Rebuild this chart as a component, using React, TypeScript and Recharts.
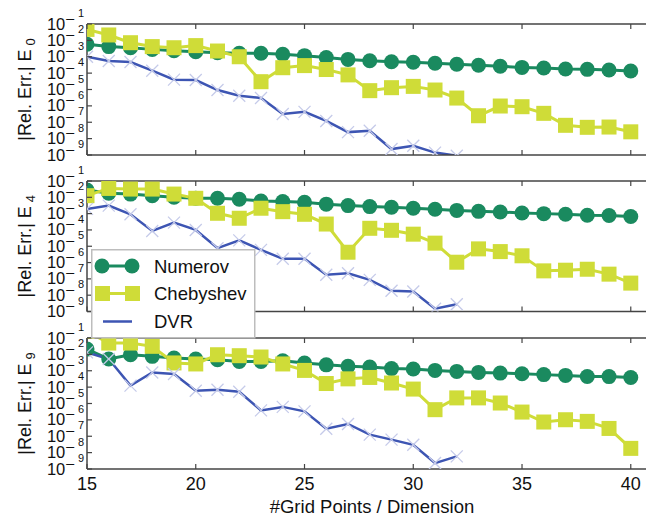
import React from 'react';
import { LineChart, Line, XAxis, YAxis, Legend } from 'recharts';

// ---------- data ----------
const gridPoints = [15, 16, 17, 18, 19, 20, 21, 22, 23, 24, 25, 26, 27, 28, 29, 30, 31, 32, 33, 34, 35, 36, 37, 38, 39, 40];

const numerovE0 = [5.75e-3, 4.17e-3, 3.55e-3, 2.82e-3, 2.34e-3, 2.04e-3, 1.78e-3, 1.62e-3, 1.62e-3, 1.41e-3, 1.17e-3, 8.9e-4, 6.9e-4, 5.75e-4, 5.0e-4, 4.57e-4, 3.98e-4, 3.47e-4, 3.02e-4, 2.63e-4, 2.24e-4, 2.04e-4, 1.78e-4, 1.7e-4, 1.55e-4, 1.35e-4];
const chebyshevE0 = [4.68e-2, 2.14e-2, 7.2e-3, 4.17e-3, 3.55e-3, 4.79e-3, 2.24e-3, 1.0e-3, 3.0e-5, 2.14e-4, 2.88e-4, 1.66e-4, 7.8e-5, 8.5e-6, 1.29e-5, 1.55e-5, 9.3e-6, 3.0e-6, 2.5e-7, 9.8e-7, 8.9e-7, 3.5e-7, 6.5e-8, 4.9e-8, 5.1e-8, 2.6e-8];
const dvrE0 = [1.0e-3, 5.5e-4, 4.8e-4, 1.41e-4, 4.0e-5, 3.8e-5, 9.3e-6, 4.2e-6, 3.0e-6, 3.2e-7, 4.3e-7, 1.2e-7, 2.5e-8, 3.0e-8, 2.3e-9, 3.7e-9, 1.4e-9, 9.0e-10];

const numerovE4 = [2.8e-2, 1.78e-2, 1.58e-2, 1.26e-2, 1.0e-2, 8.7e-3, 8.7e-3, 7.6e-3, 6.0e-3, 5.5e-3, 4.9e-3, 3.8e-3, 3.1e-3, 2.7e-3, 2.45e-3, 2.14e-3, 1.86e-3, 1.58e-3, 1.38e-3, 1.26e-3, 1.1e-3, 1.0e-3, 9.1e-4, 7.9e-4, 7.6e-4, 6.6e-4];
const chebyshevE4 = [1.26e-2, 3.5e-2, 3.2e-2, 3.2e-2, 1.58e-2, 8.7e-3, 1.05e-3, 5.2e-4, 2.14e-3, 1.32e-3, 9.1e-4, 2.3e-4, 4.3e-6, 1.26e-4, 9.5e-5, 5.5e-5, 1.55e-5, 1.05e-6, 6.9e-6, 4.7e-6, 2.6e-6, 3.1e-7, 3.4e-7, 3.9e-7, 1.95e-7, 5.5e-8];
const dvrE4 = [1.95e-3, 3.1e-3, 9.1e-4, 8.7e-5, 2.8e-4, 1.0e-4, 7.6e-6, 2.3e-5, 6.0e-6, 1.7e-6, 1.7e-6, 1.78e-7, 2.2e-7, 8.7e-8, 1.86e-8, 1.7e-8, 1.48e-9, 2.8e-9];

const numerovE9 = [2.1e-2, 5.2e-3, 9.5e-3, 7.6e-3, 6.0e-3, 5.2e-3, 4.7e-3, 3.7e-3, 3.7e-3, 4.1e-3, 3.0e-3, 2.3e-3, 1.86e-3, 1.7e-3, 1.35e-3, 1.29e-3, 1.05e-3, 9.1e-4, 7.9e-4, 7.2e-4, 6.6e-4, 5.8e-4, 5.2e-4, 4.5e-4, 4.4e-4, 3.9e-4];
const chebyshevE9 = [2.5e-1, 4.9e-2, 4.9e-2, 3.1e-2, 3.0e-3, 2.6e-3, 9.5e-3, 8.3e-3, 6.9e-3, 2.6e-3, 1.05e-3, 1.66e-4, 3.2e-4, 3.9e-4, 1.78e-4, 7.6e-5, 4.2e-6, 2.2e-5, 2.2e-5, 1.07e-5, 3.0e-6, 7.4e-7, 1.02e-6, 8.1e-7, 3.0e-7, 1.82e-8];
const dvrE9 = [1.32e-2, 5.2e-3, 1.23e-4, 7.9e-4, 6.3e-4, 6.0e-5, 6.9e-5, 5.2e-5, 3.8e-6, 6.2e-6, 3.3e-6, 2.9e-7, 5.6e-7, 1.26e-7, 6.2e-8, 3.0e-8, 2.3e-9, 5.9e-9];

const yTicks = [1e-9, 1e-8, 1e-7, 1e-6, 1e-5, 1e-4, 1e-3, 1e-2, 1e-1];
const xTicks = [15, 20, 25, 30, 35, 40];
const seriesNames = ['Numerov', 'Chebyshev', 'DVR'];
const panelSubscripts = ['0', '4', '9'];
const xLabel = '#Grid Points / Dimension';

// ---------- style ----------
const FONT = '"Liberation Sans", Arial, Helvetica, sans-serif';
const GREEN = '#1a8a5f';
const LIME = '#cfdc38';
const BLUE = '#3d55b3';
const LAVENDER = '#c5cae9';
const AXIS = '#444';
const W = 646;
const H = 519;
const PLOT_LEFT = 87;
const X_AXIS_H = 30;
const TOP_AXIS_H = 6;

type Row = { x: number; num: number | null; cheb: number | null; dvr: number | null };
type Bounds = { x: number; y: number; w: number; h: number };

function buildRows(num: number[], cheb: number[], dvr: number[]): Row[] {
  return gridPoints.map((x, i) => ({
    x,
    num: i < num.length ? num[i] : null,
    cheb: i < cheb.length ? cheb[i] : null,
    dvr: i < dvr.length ? dvr[i] : null,
  }));
}

const YTick = (props: any) => {
  const { x, y, payload } = props;
  const exp = Math.round(Math.log10(payload.value));
  return (
    <g>
      <line x1={x} x2={x + 5} y1={y} y2={y} stroke={AXIS} strokeWidth={1.2} />
      <text x={x - 3} y={y + 5.5} textAnchor="end" fontFamily={FONT} fontSize={16.5} fill="#111">
        <tspan>10</tspan>
        <tspan dy={-5}>{'\u2212'}</tspan>
        <tspan dx={3} dy={-7.5} fontSize={11}>{Math.abs(exp)}</tspan>
      </text>
    </g>
  );
};

const XTickBottom = (props: any) => {
  const { x, y, payload, showLabel } = props;
  return (
    <g>
      <line x1={x} x2={x} y1={y} y2={y - 5} stroke={AXIS} strokeWidth={1.2} />
      {showLabel ? (
        <text x={x} y={y + 21} textAnchor="middle" fontFamily={FONT} fontSize={18} fill="#111">
          {payload.value}
        </text>
      ) : null}
    </g>
  );
};

const XTickTop = (props: any) => {
  const { x, y } = props;
  return <line x1={x} x2={x} y1={y} y2={y + 5} stroke={AXIS} strokeWidth={1.2} />;
};

const YLabel = (props: any) => {
  const { viewBox, sub } = props;
  const cy = viewBox.y + viewBox.height / 2;
  const cx = 31;
  return (
    <text
      x={cx}
      y={cy}
      transform={`rotate(-90, ${cx}, ${cy})`}
      textAnchor="middle"
      fontFamily={FONT}
      fontSize={18}
      fill="#111"
    >
      <tspan>|Rel. Err.| E</tspan>
      <tspan dx={4} dy={4} fontSize={13}>{sub}</tspan>
    </text>
  );
};

const XLabel = () => (
  <text x={372} y={513} textAnchor="middle" fontFamily={FONT} fontSize={18.5} fill="#111">
    {xLabel}
  </text>
);

const ClipBox = ({ id, b }: { id: string; b: Bounds }) => (
  <clipPath id={id}>
    <rect x={b.x} y={b.y} width={b.w} height={b.h} />
  </clipPath>
);

const CircleDot = (props: any) => {
  const { cx, cy, index, clipId, bounds } = props;
  if (cx == null || cy == null) return <g key={`ci-${index}`} />;
  const id = `${clipId}-ci-${index}`;
  return (
    <g key={`ci-${index}`}>
      <ClipBox id={id} b={bounds} />
      <circle cx={cx} cy={cy} r={7.5} fill={GREEN} clipPath={`url(#${id})`} />
    </g>
  );
};

const SquareDot = (props: any) => {
  const { cx, cy, index, clipId, bounds } = props;
  if (cx == null || cy == null) return <g key={`sq-${index}`} />;
  const id = `${clipId}-sq-${index}`;
  return (
    <g key={`sq-${index}`}>
      <ClipBox id={id} b={bounds} />
      <rect x={cx - 7.5} y={cy - 7.5} width={15} height={15} fill={LIME} clipPath={`url(#${id})`} />
    </g>
  );
};

const CrossDot = (props: any) => {
  const { cx, cy, index, clipId, bounds } = props;
  if (cx == null || cy == null) return <g key={`cr-${index}`} />;
  const s = 6;
  const id = `${clipId}-cr-${index}`;
  return (
    <g key={`cr-${index}`}>
      <ClipBox id={id} b={bounds} />
      <g clipPath={`url(#${id})`}>
        <line x1={cx - s} y1={cy - s} x2={cx + s} y2={cy + s} stroke={LAVENDER} strokeWidth={1.3} />
        <line x1={cx - s} y1={cy + s} x2={cx + s} y2={cy - s} stroke={LAVENDER} strokeWidth={1.3} />
      </g>
    </g>
  );
};

const LegendBox = () => (
  <svg width={165} height={90} style={{ display: 'block' }}>
    <rect x={0.75} y={0.75} width={163} height={88} fill="#fff" stroke="#bdbdbd" strokeWidth={1.5} />
    <line x1={11} x2={41} y1={17} y2={17} stroke={GREEN} strokeWidth={3} />
    <circle cx={11} cy={17} r={7.5} fill={GREEN} />
    <circle cx={41} cy={17} r={7.5} fill={GREEN} />
    <text x={63} y={23.5} fontFamily={FONT} fontSize={18.5} fill="#111">{seriesNames[0]}</text>
    <line x1={11} x2={41} y1={44.5} y2={44.5} stroke={LIME} strokeWidth={3} />
    <rect x={4} y={37} width={15} height={15} fill={LIME} />
    <rect x={34} y={37} width={15} height={15} fill={LIME} />
    <text x={63} y={51} fontFamily={FONT} fontSize={18.5} fill="#111">{seriesNames[1]}</text>
    <line x1={12} x2={41} y1={72.5} y2={72.5} stroke={BLUE} strokeWidth={2.5} />
    <text x={63} y={79} fontFamily={FONT} fontSize={18.5} fill="#111">{seriesNames[2]}</text>
  </svg>
);

type PanelProps = {
  rows: Row[];
  top: number;
  bottom: number;
  sub: string;
  id: string;
  showXLabels?: boolean;
  showLegend?: boolean;
};

const Panel = ({ rows, top, bottom, sub, id, showXLabels, showLegend }: PanelProps) => {
  const clipId = `panel-clip-${id}`;
  const bounds: Bounds = { x: PLOT_LEFT, y: top, w: W - PLOT_LEFT, h: bottom - top };
  return (
    <div style={{ position: 'absolute', left: 0, top: 0, width: W, height: H }}>
      <LineChart
        width={W}
        height={H}
        data={rows}
        margin={{ top: top - TOP_AXIS_H, bottom: H - bottom - X_AXIS_H, left: PLOT_LEFT - 80, right: 0 }}
      >
        <XAxis
          xAxisId="bottom"
          dataKey="x"
          type="number"
          domain={[15, 40.7]}
          allowDataOverflow
          ticks={xTicks}
          height={X_AXIS_H}
          tickSize={0}
          tickMargin={0}
          tickLine={false}
          axisLine={{ stroke: AXIS, strokeWidth: 1.5 }}
          tick={(p: any) => <XTickBottom {...p} showLabel={showXLabels} />}
          interval={0}
          label={showXLabels ? <XLabel /> : undefined}
        />
        <XAxis
          xAxisId="top"
          orientation="top"
          dataKey="x"
          type="number"
          domain={[15, 40.7]}
          allowDataOverflow
          ticks={xTicks}
          height={TOP_AXIS_H}
          tickSize={0}
          tickMargin={0}
          tickLine={false}
          axisLine={{ stroke: AXIS, strokeWidth: 1.5 }}
          tick={(p: any) => <XTickTop {...p} />}
          interval={0}
        />
        <YAxis
          type="number"
          scale="log"
          domain={[1e-9, 1e-1]}
          allowDataOverflow
          ticks={yTicks}
          width={80}
          tickSize={0}
          tickMargin={0}
          tickLine={false}
          interval={0}
          axisLine={{ stroke: AXIS, strokeWidth: 1.5 }}
          tick={(p: any) => <YTick {...p} />}
          label={(p: any) => <YLabel {...p} sub={sub} />}
        />
        <Line
          xAxisId="bottom"
          dataKey="num"
          name={seriesNames[0]}
          stroke={GREEN}
          strokeWidth={3}
          dot={(p: any) => <CircleDot {...p} clipId={clipId} bounds={bounds} />}
          isAnimationActive={false}
        />
        <Line
          xAxisId="bottom"
          dataKey="cheb"
          name={seriesNames[1]}
          stroke={LIME}
          strokeWidth={3}
          dot={(p: any) => <SquareDot {...p} clipId={clipId} bounds={bounds} />}
          isAnimationActive={false}
        />
        <Line
          xAxisId="bottom"
          dataKey="dvr"
          name="DVR markers"
          stroke="none"
          legendType="none"
          dot={(p: any) => <CrossDot {...p} clipId={clipId} bounds={bounds} />}
          isAnimationActive={false}
        />
        <Line
          xAxisId="bottom"
          dataKey="dvr"
          name={seriesNames[2]}
          stroke={BLUE}
          strokeWidth={2.5}
          dot={false}
          isAnimationActive={false}
        />
        {showLegend ? (
          <Legend
            layout="vertical"
            align="center"
            verticalAlign="middle"
            wrapperStyle={{ left: 91, top: 249, width: 165, height: 90 }}
            content={() => <LegendBox />}
          />
        ) : null}
      </LineChart>
    </div>
  );
};

export default function App() {
  const rows0 = buildRows(numerovE0, chebyshevE0, dvrE0);
  const rows4 = buildRows(numerovE4, chebyshevE4, dvrE4);
  const rows9 = buildRows(numerovE9, chebyshevE9, dvrE9);
  return (
    <div style={{ position: 'absolute', left: 0, top: 0, width: W, height: H, background: '#fff', fontFamily: FONT, overflow: 'hidden' }}>
      <Panel id="e0" rows={rows0} top={24} bottom={155} sub={panelSubscripts[0]} />
      <Panel id="e9" rows={rows9} top={338} bottom={469} sub={panelSubscripts[2]} showXLabels />
      <Panel id="e4" rows={rows4} top={181} bottom={311.5} sub={panelSubscripts[1]} showLegend />
    </div>
  );
}
